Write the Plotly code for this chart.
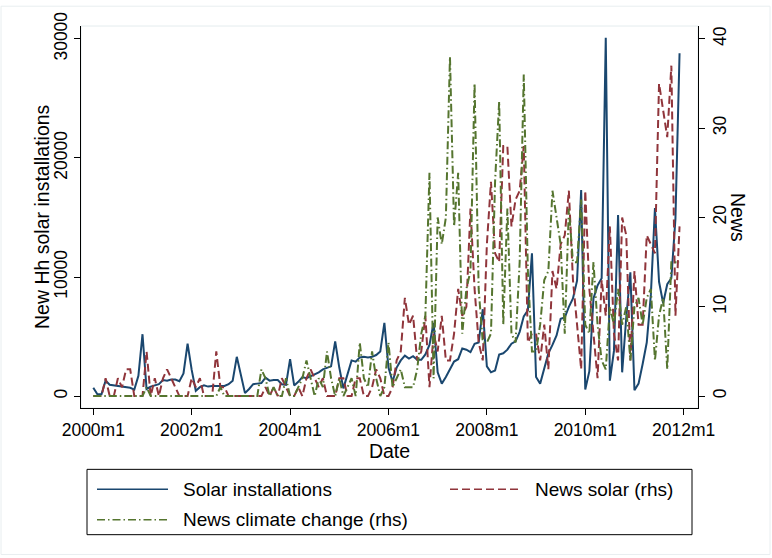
import plotly.graph_objects as go

months = list(range(144))
tick_vals = [0, 24, 48, 72, 96, 120, 144]
tick_text = ["2000m1", "2002m1", "2004m1", "2006m1", "2008m1", "2010m1", "2012m1"]
left_ticks = [0, 10000, 20000, 30000]
left_tick_text = ["0", "10000", "20000", "30000"]
right_ticks = [0, 10, 20, 30, 40]

solar_installations = [
    700, 150, 150, 1300, 950, 900, 850, 850, 750, 700, 550, 1700,
    5200, 600, 800, 900, 1000, 1350, 1300, 1400, 1400, 1250, 1900, 4400,
    2200, 450, 750, 900, 800, 850, 850, 900, 850, 1000, 1300, 3300,
    1800, 250, 600, 1000, 1050, 1100, 1550, 1300, 1350, 1350, 1000, 950,
    3100, 900, 1200, 1600, 1500, 1650, 1850, 2000, 2250, 2400, 2500, 4600,
    2400, 650, 1800, 3000, 2900, 3250, 3300, 3250, 3300, 3450, 3750, 6150,
    2400, 1200, 2400, 3000, 3400, 3150, 3350, 3050, 3050, 3500, 4300, 6150,
    2000, 1050, 1600, 2300, 2900, 3100, 4000, 3900, 3700, 4400, 4500, 7300,
    2500, 2000, 2150, 3500, 3600, 3900, 4400, 4600, 5400, 6700, 7200, 12000,
    1600, 1050, 2400, 3600, 4300, 5100, 6500, 6600, 7500, 8200, 9700, 17300,
    550, 2100, 8200, 9300, 9900, 30100, 1300, 3800, 15200, 2000, 6600, 10400,
    500, 1050, 2700, 4500, 8500, 15800, 9600, 7800, 9400, 9900, 14900, 28800,
]

news_solar = [
    0, 0, 0, 2, 0, 0, 2, 1, 3, 3, 0, 0,
    0, 5, 0, 2, 0, 2, 3, 2, 1, 0, 0, 0,
    2, 1, 2, 0, 0, 0, 5, 1, 1, 0, 0, 0,
    0, 0, 0, 0, 0, 0, 1, 0, 1, 0, 2, 1,
    0, 0, 1, 0, 2, 3, 2, 1, 2, 0, 0, 0,
    2, 2, 0, 0, 2, 2, 0, 0, 1, 3, 2, 0,
    0, 1, 4, 5, 11, 8, 9, 4, 5, 9, 1, 7,
    5, 9, 4, 4, 7, 12, 9, 10, 21, 12, 6, 4,
    17, 24, 16, 15, 28, 28, 19, 22, 23, 28, 6, 7,
    7, 4, 8, 3, 14, 12, 17, 18, 23, 13, 8, 3,
    23, 12, 7, 2, 13, 9, 19, 7, 4, 20, 18, 4,
    14, 8, 8, 18, 17, 16, 35, 32, 29, 37, 9, 19,
]

news_climate = [
    0, 0, 0, 0, 0, 0, 0, 0, 0, 0, 0, 0,
    0, 1, 0, 0, 0, 0, 0, 0, 0, 0, 0, 0,
    0, 0, 0, 0, 0, 0, 0, 1, 0, 0, 0, 0,
    0, 0, 0, 0, 0, 3, 2, 0, 1, 0, 0, 2,
    0, 0, 1, 2, 4, 2, 0, 2, 1, 5, 2, 0,
    2, 0, 1, 2, 0, 6, 2, 1, 5, 2, 0, 1,
    6, 1, 2, 3, 1, 1, 1, 3, 7, 9, 25, 2,
    20, 17, 20, 38, 19, 25, 7, 12, 14, 35, 12, 6,
    6, 7, 24, 33, 8, 21, 7, 6, 15, 36, 14, 5,
    5, 8, 13, 14, 23, 20, 17, 7, 21, 15, 15, 22,
    8, 7, 15, 8, 4, 3, 10, 8, 12, 8, 10, 4,
    10, 11, 8, 11, 12, 4, 9, 11, 3, 15, 15, 15,
]

NAVY = "#1a476f"
MAROON = "#90353b"
GREEN = "#55752f"
RED_DASH = "8px,4px"
GREEN_DASH = "8px,3px,1.5px,3px"
FONT = "Arial, 'Liberation Sans', Helvetica, sans-serif"
TICK_SIZE = 17.5
TITLE_SIZE = 19.5
LEGEND_SIZE = 19

fig = go.Figure()
fig.add_trace(go.Scatter(x=months, y=solar_installations, mode="lines",
                         name="Solar installations",
                         line=dict(color=NAVY, width=2)))
fig.add_trace(go.Scatter(x=months, y=news_solar, mode="lines", yaxis="y2",
                         name="News solar (rhs)",
                         line=dict(color=MAROON, width=2, dash=RED_DASH)))
fig.add_trace(go.Scatter(x=months, y=news_climate, mode="lines", yaxis="y2",
                         name="News climate change (rhs)",
                         line=dict(color=GREEN, width=2, dash=GREEN_DASH)))

W, H = 772, 558
L, R, T, B = 81, 74, 22, 150
pw, ph = W - L - R, H - T - B

def px(x):
    return (x - L) / pw

def py(y):
    return (H - B - y) / ph

axis_common = dict(showgrid=False, zeroline=False, showline=True,
                   linecolor="black", linewidth=1, ticks="outside",
                   ticklen=6, tickcolor="black", tickwidth=1,
                   tickfont=dict(family=FONT, size=TICK_SIZE, color="black"))

fig.update_layout(
    width=W, height=H,
    margin=dict(l=L, r=R, t=T, b=B),
    paper_bgcolor="white", plot_bgcolor="white",
    showlegend=False,
    font=dict(family=FONT, color="black"),
    xaxis=dict(range=[-3, 147.5], tickvals=tick_vals, ticktext=tick_text,
               title=dict(text="Date", font=dict(family=FONT, size=TITLE_SIZE), standoff=3),
               **axis_common),
    yaxis=dict(range=[-997, 31081], tickvals=left_ticks, ticktext=left_tick_text,
               tickangle=-90, **axis_common),
    yaxis2=dict(range=[-1.33, 41.44], tickvals=right_ticks,
                tickangle=-90, overlaying="y", side="right",
                **axis_common),
)

shapes = []
annotations = []
# outer graph frame (faint)
shapes.append(dict(type="rect", xref="paper", yref="paper",
                   x0=px(1), x1=px(770), y0=py(2), y1=py(556),
                   line=dict(color="#e8eef0", width=1), layer="below"))
# plot region frame (faint)
shapes.append(dict(type="rect", xref="paper", yref="paper", x0=0, x1=1, y0=0, y1=1,
                   line=dict(color="#e4ecee", width=1), layer="below"))
# legend box
shapes.append(dict(type="rect", xref="paper", yref="paper",
                   x0=px(87), x1=px(692), y0=py(470), y1=py(536),
                   line=dict(color="black", width=1), fillcolor="white"))
legend_items = [
    ("Solar installations", NAVY, "solid", 97, 168, 490),
    ("News solar (rhs)", MAROON, RED_DASH, 450, 520, 490),
    ("News climate change (rhs)", GREEN, GREEN_DASH, 97, 168, 521),
]
for label, color, dash, x0, x1, yy in legend_items:
    shapes.append(dict(type="line", xref="paper", yref="paper",
                       x0=px(x0), x1=px(x1), y0=py(yy), y1=py(yy),
                       line=dict(color=color, width=1.5, dash=dash)))
    annotations.append(dict(text=label, xref="paper", yref="paper",
                            x=px(x1 + 13), y=py(yy), xanchor="left", yanchor="middle",
                            showarrow=False,
                            font=dict(family=FONT, size=LEGEND_SIZE, color="black")))
# axis titles
annotations.append(dict(text="New Hh solar installations", xref="paper", yref="paper",
                        x=px(42), y=py(215), textangle=-90,
                        xanchor="center", yanchor="middle", showarrow=False,
                        font=dict(family=FONT, size=TITLE_SIZE, color="black")))
annotations.append(dict(text="News", xref="paper", yref="paper",
                        x=px(738), y=py(215), textangle=90,
                        xanchor="center", yanchor="middle", showarrow=False,
                        font=dict(family=FONT, size=TITLE_SIZE, color="black")))
fig.update_layout(shapes=shapes, annotations=annotations)

fig.write_html("out.html")
